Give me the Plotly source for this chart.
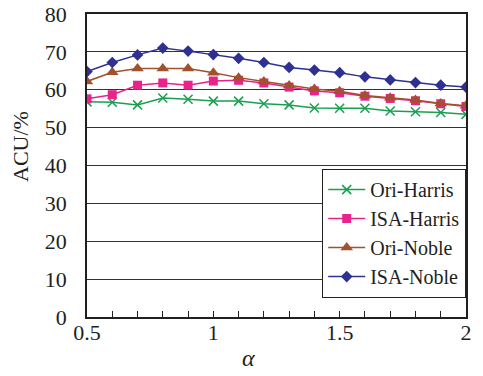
import plotly.graph_objects as go

alpha = [0.5, 0.6, 0.7, 0.8, 0.9, 1.0, 1.1, 1.2, 1.3, 1.4, 1.5, 1.6, 1.7, 1.8, 1.9, 2.0]
ori_harris = [56.8, 56.7, 56.0, 57.8, 57.5, 57.0, 57.0, 56.3, 56.0, 55.2, 55.1, 55.1, 54.4, 54.2, 54.0, 53.5]
isa_harris = [57.6, 58.7, 61.2, 61.8, 61.2, 62.3, 62.5, 61.8, 60.7, 59.7, 59.2, 58.3, 57.7, 57.1, 56.3, 55.6]
ori_noble = [62.2, 64.6, 65.6, 65.6, 65.6, 64.5, 63.2, 62.2, 61.1, 60.2, 59.6, 58.5, 57.9, 57.3, 56.4, 55.8]
isa_noble = [64.8, 67.2, 69.2, 71.0, 70.2, 69.3, 68.3, 67.2, 65.9, 65.2, 64.5, 63.4, 62.6, 61.9, 61.2, 60.7]

names = ["Ori-Harris", "ISA-Harris", "Ori-Noble", "ISA-Noble"]
series = [ori_harris, isa_harris, ori_noble, isa_noble]
colors = ["#1a9f50", "#e8238c", "#a0522d", "#2e3192"]
symbols = ["x-thin-open", "square", "triangle-up", "diamond"]
sizes = [9, 9, 11, 9]

FONT = "Liberation Serif, Times New Roman, serif"
W, H = 483, 376
ML, MR, MT, MB = 87, 17, 14, 59

fig = go.Figure()
for n, s, c, sym, sz in zip(names, series, colors, symbols, sizes):
    marker = dict(symbol=sym, size=sz, color=c)
    if sym == "x-thin-open":
        marker["line"] = dict(color=c, width=1.5)
    else:
        marker["line"] = dict(width=0)
    fig.add_trace(go.Scatter(x=alpha, y=s, name=n, mode="lines+markers",
                             line=dict(color=c, width=1.5), marker=marker))

pw, ph = W - ML - MR, H - MT - MB


def px_to_paper(x, y):
    return (x - ML) / pw, (H - MB - y) / ph


ax, ay = px_to_paper(20, 147)
bx, by = px_to_paper(248, 358)

fig.update_layout(
    width=W, height=H,
    margin=dict(l=ML, r=MR, t=MT, b=MB, autoexpand=False),
    paper_bgcolor="white", plot_bgcolor="white",
    font=dict(family=FONT, size=22, color="#231f20"),
    showlegend=True,
    legend=dict(x=1, y=0.063, xanchor="right", yanchor="bottom",
                bgcolor="white", bordercolor="#231f20", borderwidth=1.2,
                itemwidth=37,
                font=dict(family=FONT, size=20)),
    xaxis=dict(range=[0.5, 2], tickvals=[0.5, 1, 1.5, 2], ticktext=["0.5", "1", "1.5", "2"],
               ticks="inside", ticklen=6, tickcolor="#231f20", tickwidth=1,
               minor=dict(dtick=0.1, ticks="inside", ticklen=6, tickcolor="#231f20", tickwidth=1),
               showgrid=False, zeroline=False, automargin=False,
               showline=True, linecolor="#231f20", linewidth=1.5, mirror=True,
               ticklabelstandoff=-5),
    yaxis=dict(range=[0, 80], dtick=10, ticks="", showgrid=True, gridcolor="#333333", gridwidth=1,
               zeroline=False, showline=True, linecolor="#231f20", linewidth=1.5, mirror=True,
               automargin=False, ticklabelstandoff=14),
    annotations=[
        dict(text="ACU/%", x=ax, y=ay, xref="paper", yref="paper", showarrow=False,
             xanchor="center", yanchor="middle",
             textangle=-90, font=dict(family=FONT, size=22)),
        dict(text="<i>α</i>", x=bx, y=by, xref="paper", yref="paper", showarrow=False,
             xanchor="center", yanchor="middle",
             font=dict(family=FONT, size=24)),
    ],
)

fig.write_html("out.html", config={"displayModeBar": False},
               post_script="document.body.style.margin='0';")
